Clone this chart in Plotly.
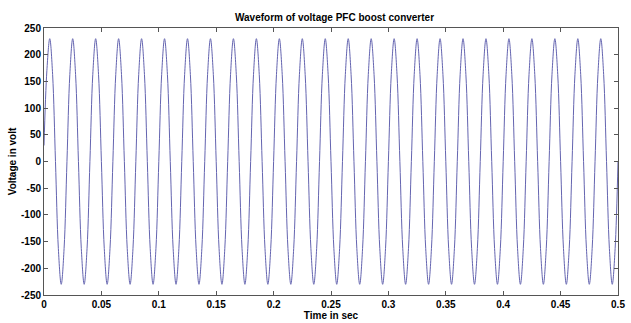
import plotly.graph_objects as go

# ---- data (8 samples per 50 Hz cycle) ----
sample_step = 0.0025  # s between samples
voltage = [
    30, 170, 230, 163, 0, -163, -230, -163,
    0, 163, 230, 163, 0, -163, -230, -163,
    0, 163, 230, 163, 0, -163, -230, -163,
    0, 163, 230, 163, 0, -163, -230, -163,
    0, 163, 230, 163, 0, -163, -230, -163,
    0, 163, 230, 163, 0, -163, -230, -163,
    0, 163, 230, 163, 0, -163, -230, -163,
    0, 163, 230, 163, 0, -163, -230, -163,
    0, 163, 230, 163, 0, -163, -230, -163,
    0, 163, 230, 163, 0, -163, -230, -163,
    0, 163, 230, 163, 0, -163, -230, -163,
    0, 163, 230, 163, 0, -163, -230, -163,
    0, 163, 230, 163, 0, -163, -230, -163,
    0, 163, 230, 163, 0, -163, -230, -163,
    0, 163, 230, 163, 0, -163, -230, -163,
    0, 163, 230, 163, 0, -163, -230, -163,
    0, 163, 230, 163, 0, -163, -230, -163,
    0, 163, 230, 163, 0, -163, -230, -163,
    0, 163, 230, 163, 0, -163, -230, -163,
    0, 163, 230, 163, 0, -163, -230, -163,
    0, 163, 230, 163, 0, -163, -230, -163,
    0, 163, 230, 163, 0, -163, -230, -163,
    0, 163, 230, 163, 0, -163, -230, -163,
    0, 163, 230, 163, 0, -163, -230, -163,
    0, 163, 230, 163, 0, -163, -230, -163,
    0,
]
time = [i * sample_step for i in range(len(voltage))]

x_ticks = [0, 0.05, 0.1, 0.15, 0.2, 0.25, 0.3, 0.35, 0.4, 0.45, 0.5]
x_tick_labels = ["0", "0.05", "0.1", "0.15", "0.2", "0.25", "0.3", "0.35", "0.4", "0.45", "0.5"]
y_ticks = [-250, -200, -150, -100, -50, 0, 50, 100, 150, 200, 250]
y_tick_labels = [str(v) for v in y_ticks]

title_text = "Waveform of voltage PFC boost converter"
x_title = "Time in sec"
y_title = "Voltage in volt"

FONT = "Liberation Sans, Arial, sans-serif"

fig = go.Figure(
    go.Scatter(
        x=time, y=voltage, mode="lines",
        line=dict(color="#6464b0", width=1, shape="spline", smoothing=1.0),
        hoverinfo="skip",
    )
)

axis_common = dict(
    showgrid=False, zeroline=False, showline=True, linecolor="#555555", linewidth=1,
    mirror="ticks", ticks="inside", ticklen=4, tickcolor="#555555",
    ticklabeloverflow="allow",
    tickfont=dict(family=FONT, size=10, color="black", weight="bold"),
)

fig.update_layout(
    width=631, height=323,
    margin=dict(l=44, r=6, t=28, b=24),
    paper_bgcolor="white", plot_bgcolor="white",
    showlegend=False,
    title=dict(text=title_text, x=(44 + 625) / 2 / 631, xanchor="center",
               y=1 - 17 / 323, yanchor="middle", yref="container",
               font=dict(family=FONT, size=10, color="black", weight="bold")),
    xaxis=dict(range=[0, 0.5], tickvals=x_ticks, ticktext=x_tick_labels,
               title=dict(text=x_title, standoff=0,
                          font=dict(family=FONT, size=10, color="black", weight="bold")),
               **axis_common),
    yaxis=dict(range=[-250, 250], tickvals=y_ticks, ticktext=y_tick_labels,
               title=dict(text=y_title, standoff=2,
                          font=dict(family=FONT, size=10, color="black", weight="bold")),
               **axis_common),
)

fig.write_html("out.html")
